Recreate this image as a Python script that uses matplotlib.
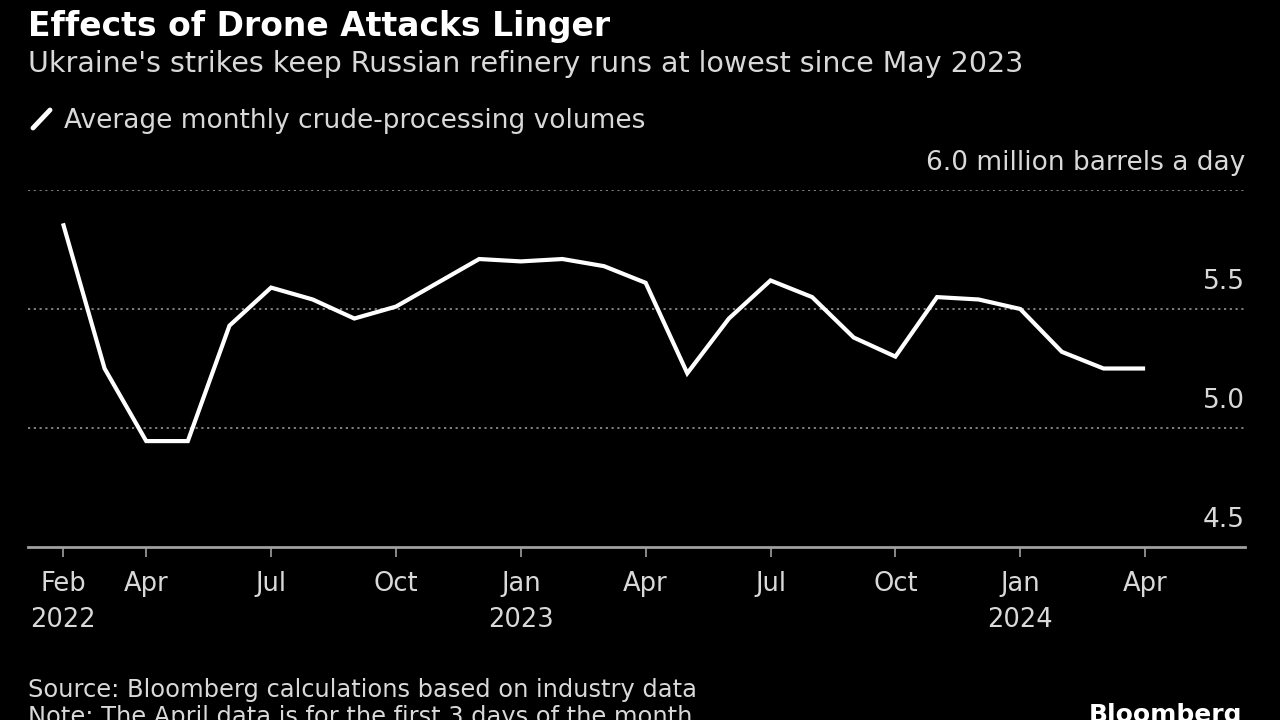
import matplotlib
matplotlib.use("Agg")
import matplotlib.pyplot as plt

# ---- data -------------------------------------------------------------------
months = ["2022-02", "2022-03", "2022-04", "2022-05", "2022-06", "2022-07",
          "2022-08", "2022-09", "2022-10", "2022-11", "2022-12", "2023-01",
          "2023-02", "2023-03", "2023-04", "2023-05", "2023-06", "2023-07",
          "2023-08", "2023-09", "2023-10", "2023-11", "2023-12", "2024-01",
          "2024-02", "2024-03", "2024-04"]
runs = [5.86, 5.25, 4.945, 4.945, 5.43, 5.59, 5.54, 5.46, 5.51, 5.61, 5.71,
        5.70, 5.71, 5.68, 5.61, 5.23, 5.46, 5.62, 5.55, 5.38, 5.30, 5.55,
        5.54, 5.50, 5.32, 5.25, 5.25]

tick_idx = [0, 2, 5, 8, 11, 14, 17, 20, 23, 26]
tick_labels = ["Feb\n2022", "Apr", "Jul", "Oct", "Jan\n2023", "Apr", "Jul",
               "Oct", "Jan\n2024", "Apr"]
y_ticks = [4.5, 5.0, 5.5, 6.0]
y_labels = ["4.5", "5.0", "5.5", "6.0 million barrels a day"]

BG = "black"
GRID = "#8a8a8a"
TXT = "#d9d9d9"
FONT = "DejaVu Sans"

fig = plt.figure(figsize=(12.8, 7.2), dpi=100, facecolor=BG)
ax = fig.add_axes([28/1280, 1 - 547/720, (1245 - 28)/1280, (547 - 190)/720])
ax.set_facecolor(BG)

x = list(range(len(runs)))
ax.plot(x, runs, color="white", lw=3.0, solid_joinstyle="miter",
        solid_capstyle="butt", clip_on=False, zorder=3)

ax.set_xlim(-0.84, 28.4)
ax.set_ylim(4.5, 6.0)

for v in y_ticks[1:]:
    ax.axhline(v, color=GRID, lw=1.3, ls=(0, (1.2, 2.0)), zorder=1)
for v, lab in zip(y_ticks, y_labels):
    ax.text(1.0, v + 0.06, lab, transform=ax.get_yaxis_transform(),
            ha="right", va="bottom", color=TXT, fontsize=19, family=FONT)

for s in ["top", "right", "left"]:
    ax.spines[s].set_visible(False)
ax.spines["bottom"].set_color("#a0a0a0")
ax.spines["bottom"].set_linewidth(2)
ax.set_yticks([])
ax.set_xticks(tick_idx)
ax.set_xticklabels(tick_labels, color=TXT, fontsize=18.5, family=FONT,
                   linespacing=1.5)
ax.tick_params(axis="x", length=7, width=1.2, color="#a0a0a0", pad=10)

fig.text(28/1280, 1 - 36/720, "Effects of Drone Attacks Linger",
         color="white", fontsize=23.8, fontweight="bold", family=FONT)
fig.text(28/1280, 1 - 72/720,
         "Ukraine's strikes keep Russian refinery runs at lowest since May 2023",
         color=TXT, fontsize=20.5, family=FONT)
fig.add_artist(plt.Line2D([33/1280, 50/1280], [1 - 128/720, 1 - 110/720],
                          color="white", lw=3.5, solid_capstyle="round"))
fig.text(64/1280, 1 - 128/720, "Average monthly crude-processing volumes",
         color=TXT, fontsize=19, family=FONT)

fig.text(28/1280, 1 - 697/720,
         "Source: Bloomberg calculations based on industry data",
         color=TXT, fontsize=17.4, family=FONT)
fig.text(28/1280, 1 - 724/720,
         "Note: The April data is for the first 3 days of the month",
         color=TXT, fontsize=17.4, family=FONT)
fig.text(1242/1280, 1 - 722/720, "Bloomberg", color="white", fontsize=18,
         fontweight="bold", family=FONT, ha="right")

fig.savefig("out.png", dpi=100, facecolor=BG)
